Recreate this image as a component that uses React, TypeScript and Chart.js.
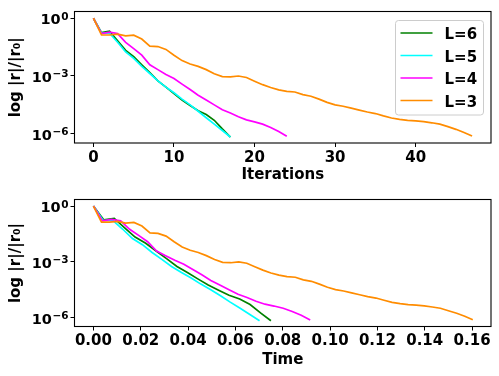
import React, { useEffect, useRef } from "react";
import { Chart, registerables } from "chart.js";
Chart.register(...registerables);

// ---- data ----
const seriesLabels = ["L=6", "L=5", "L=4", "L=3"];
const seriesColors = ["#008000", "#00ffff", "#ff00ff", "#ff8c00"];

const iterL6 = [0, 1, 2, 3, 4, 5, 6, 7, 8, 9, 10, 11, 12, 13, 14, 15, 16, 17];
const iterL5 = [0, 1, 2, 3, 4, 5, 6, 7, 8, 9, 10, 11, 12, 13, 14, 15, 16, 17];
const iterL4 = [0, 1, 2, 3, 4, 5, 6, 7, 8, 9, 10, 11, 12, 13, 14, 15, 16, 17, 18, 19, 20, 21, 22, 23, 24];
const iterL3 = [0, 1, 2, 3, 4, 5, 6, 7, 8, 9, 10, 11, 12, 13, 14, 15, 16, 17, 18, 19, 20, 21, 22, 23, 24, 25, 26, 27, 28, 29, 30, 31, 32, 33, 34, 35, 36, 37, 38, 39, 40, 41, 42, 43, 44, 45, 46, 47];

const timeL6 = [0, 0.0044, 0.0088, 0.0132, 0.0176, 0.0221, 0.0265, 0.0309, 0.0353, 0.0397, 0.0441, 0.0485, 0.0529, 0.0573, 0.0618, 0.0662, 0.0706, 0.075];
const timeL5 = [0, 0.0041, 0.0083, 0.0124, 0.0165, 0.0207, 0.0248, 0.0289, 0.033, 0.0372, 0.0413, 0.0454, 0.0496, 0.0537, 0.0578, 0.062, 0.0661, 0.0702];
const timeL4 = [0, 0.0038, 0.0076, 0.0115, 0.0153, 0.0191, 0.0229, 0.0267, 0.0305, 0.0344, 0.0382, 0.042, 0.0458, 0.0496, 0.0534, 0.0573, 0.0611, 0.0649, 0.0687, 0.0725, 0.0763, 0.0802, 0.084, 0.0878, 0.0916];
const timeL3 = [0, 0.0034, 0.0068, 0.0102, 0.0136, 0.0171, 0.0205, 0.0239, 0.0273, 0.0307, 0.0341, 0.0375, 0.0409, 0.0443, 0.0477, 0.0512, 0.0546, 0.058, 0.0614, 0.0648, 0.0682, 0.0716, 0.075, 0.0784, 0.0818, 0.0853, 0.0887, 0.0921, 0.0955, 0.0989, 0.1023, 0.1057, 0.1091, 0.1125, 0.1159, 0.1194, 0.1228, 0.1262, 0.1296, 0.133, 0.1364, 0.1398, 0.1432, 0.1466, 0.15, 0.1535, 0.1569, 0.1603];

// log10 of |r|/|r0|
const logResL6 = [0, -0.75, -0.67, -1.17, -1.67, -2.0, -2.42, -2.83, -3.25, -3.58, -3.92, -4.25, -4.53, -4.8, -5.0, -5.3, -5.75, -6.17];
const logResL5 = [0, -0.78, -0.78, -1.25, -1.75, -2.08, -2.5, -2.87, -3.25, -3.58, -3.87, -4.2, -4.5, -4.83, -5.17, -5.5, -5.83, -6.17];
const logResL4 = [0, -0.8, -0.72, -0.8, -1.25, -1.58, -1.92, -2.42, -2.67, -2.92, -3.13, -3.42, -3.7, -4.0, -4.25, -4.5, -4.75, -4.92, -5.12, -5.28, -5.38, -5.5, -5.67, -5.88, -6.13];
const logResL3 = [0, -0.87, -0.87, -0.83, -0.92, -0.88, -1.08, -1.45, -1.47, -1.62, -1.92, -2.2, -2.38, -2.5, -2.67, -2.88, -3.03, -3.05, -3.0, -3.08, -3.27, -3.45, -3.6, -3.72, -3.8, -3.83, -3.97, -4.05, -4.2, -4.37, -4.5, -4.57, -4.67, -4.77, -4.87, -4.95, -5.07, -5.18, -5.25, -5.3, -5.33, -5.37, -5.43, -5.5, -5.63, -5.77, -5.93, -6.12];

const iterTicks = [0, 10, 20, 30, 40];
const timeTicks = [0, 0.02, 0.04, 0.06, 0.08, 0.1, 0.12, 0.14, 0.16];
const yTickValues = [1e-6, 1e-3, 1];
const yTickBase = "10";
const yTickExponents = ["\u22126", "\u22123", "0"];
const yTitle = "log |r|/|r\u2080|";

const FAMILY = "'DejaVu Sans', sans-serif";

const boxAndLegendPlugin = (withLegend: boolean) => ({
  id: "boxLegend",
  afterDraw(chart: any) {
    const { ctx, chartArea: a } = chart;
    ctx.save();
    ctx.strokeStyle = "#000";
    ctx.lineWidth = 1.1;
    ctx.strokeRect(a.left, a.top, a.right - a.left, a.bottom - a.top);

    // y tick labels with superscript exponents (10^k)
    const yScale = chart.scales.y;
    ctx.fillStyle = "#000";
    ctx.textAlign = "right";
    ctx.textBaseline = "alphabetic";
    const xr = a.left - 6;
    yScale.ticks.forEach((t: any, i: number) => {
      const py = yScale.getPixelForValue(t.value);
      ctx.font = `bold 10.5px ${FAMILY}`;
      const sup = yTickExponents[i];
      const sw = ctx.measureText(sup).width;
      ctx.fillText(sup, xr, py + 1.5);
      ctx.font = `bold 14.5px ${FAMILY}`;
      ctx.fillText(yTickBase, xr - sw - 0.5, py + 6);
    });

    if (withLegend) {
      const fw = 88, fh = 94.5;
      const fx = a.right - 7.5 - fw;
      const fy = a.top + 9;
      const r = 3;
      ctx.beginPath();
      ctx.moveTo(fx + r, fy);
      ctx.lineTo(fx + fw - r, fy);
      ctx.quadraticCurveTo(fx + fw, fy, fx + fw, fy + r);
      ctx.lineTo(fx + fw, fy + fh - r);
      ctx.quadraticCurveTo(fx + fw, fy + fh, fx + fw - r, fy + fh);
      ctx.lineTo(fx + r, fy + fh);
      ctx.quadraticCurveTo(fx, fy + fh, fx, fy + fh - r);
      ctx.lineTo(fx, fy + r);
      ctx.quadraticCurveTo(fx, fy, fx + r, fy);
      ctx.closePath();
      ctx.fillStyle = "rgba(255,255,255,0.8)";
      ctx.fill();
      ctx.strokeStyle = "#cccccc";
      ctx.lineWidth = 1;
      ctx.stroke();
      ctx.font = `bold 15px ${FAMILY}`;
      ctx.textAlign = "left";
      ctx.textBaseline = "alphabetic";
      for (let i = 0; i < seriesLabels.length; i++) {
        const ly = fy + 12.5 + i * 22.5;
        ctx.strokeStyle = seriesColors[i];
        ctx.lineWidth = 1.7;
        ctx.beginPath();
        ctx.moveTo(fx + 5, ly);
        ctx.lineTo(fx + 37, ly);
        ctx.stroke();
        ctx.fillStyle = "#000";
        ctx.fillText(seriesLabels[i], fx + 49, ly + 6);
      }
    }
    ctx.restore();
  },
});

function buildConfig(kind: "iter" | "time") {
  const xs = kind === "iter" ? [iterL6, iterL5, iterL4, iterL3] : [timeL6, timeL5, timeL4, timeL3];
  const ys = [logResL6, logResL5, logResL4, logResL3];
  const datasets = ys.map((arr, k) => ({
    label: seriesLabels[k],
    data: arr.map((v, i) => ({ x: xs[k][i], y: Math.pow(10, v) })),
    borderColor: seriesColors[k],
    backgroundColor: seriesColors[k],
    borderWidth: 1.7,
    pointRadius: 0,
    tension: 0,
    fill: false,
    order: 4 - k,
  }));
  const isIter = kind === "iter";
  const tickFont = { family: FAMILY, size: 15, weight: "bold" as const };
  const titleFont = { family: FAMILY, size: 15, weight: "bold" as const };
  const grid = {
    display: true,
    drawOnChartArea: false,
    drawTicks: true,
    tickLength: 4,
    color: "#000",
    lineWidth: 1,
  };
  return {
    type: "line" as const,
    data: { datasets },
    plugins: [boxAndLegendPlugin(isIter)],
    options: {
      animation: false as const,
      responsive: false,
      maintainAspectRatio: false,
      layout: { padding: { left: 0, right: 8, top: isIter ? 6 : 2.5, bottom: 0 } },
      plugins: { legend: { display: false }, tooltip: { enabled: false } },
      scales: {
        x: {
          type: "linear" as const,
          min: isIter ? -2.35 : -0.008,
          max: isIter ? 49.35 : 0.168,
          afterBuildTicks: (s: any) => {
            s.ticks = (isIter ? iterTicks : timeTicks).map((v) => ({ value: v }));
          },
          afterFit: (s: any) => {
            s.height = isIter ? 45 : 49.5;
          },
          ticks: {
            font: tickFont,
            color: "#000",
            padding: 2,
            maxRotation: 0,
            autoSkip: false,
            callback: (v: any) => (isIter ? String(v) : Number(v).toFixed(2)),
          },
          grid,
          border: { display: false },
          title: {
            display: true,
            text: isIter ? "Iterations" : "Time",
            font: titleFont,
            color: "#000",
            padding: { top: 0, bottom: isIter ? 4 : 7 },
          },
        },
        y: {
          type: "logarithmic" as const,
          min: Math.pow(10, -6.48),
          max: Math.pow(10, 0.35),
          afterBuildTicks: (s: any) => {
            s.ticks = yTickValues.map((v) => ({ value: v }));
          },
          afterFit: (s: any) => {
            s.width = 74.5;
          },
          ticks: {
            font: tickFont,
            color: "rgba(0,0,0,0)",
            padding: 2.5,
            autoSkip: false,
            callback: () => "",
          },
          grid,
          border: { display: false },
          title: {
            display: true,
            text: yTitle,
            font: titleFont,
            color: "#000",
            padding: { top: 7, bottom: 0 },
          },
        },
      },
    },
  };
}

function ChartCanvas({ kind, top }: { kind: "iter" | "time"; top: number }) {
  const ref = useRef<HTMLCanvasElement | null>(null);
  useEffect(() => {
    if (!ref.current) return;
    const chart = new Chart(ref.current, buildConfig(kind) as any);
    return () => chart.destroy();
  }, [kind]);
  return (
    <canvas
      ref={ref}
      width={499}
      height={188}
      style={{ position: "absolute", left: 0, top, width: 499, height: 188 }}
    />
  );
}

export default function App() {
  return (
    <div style={{ position: "absolute", left: 0, top: 0, width: 499, height: 376, background: "#fff" }}>
      <ChartCanvas kind="iter" top={0} />
      <ChartCanvas kind="time" top={188} />
    </div>
  );
}
